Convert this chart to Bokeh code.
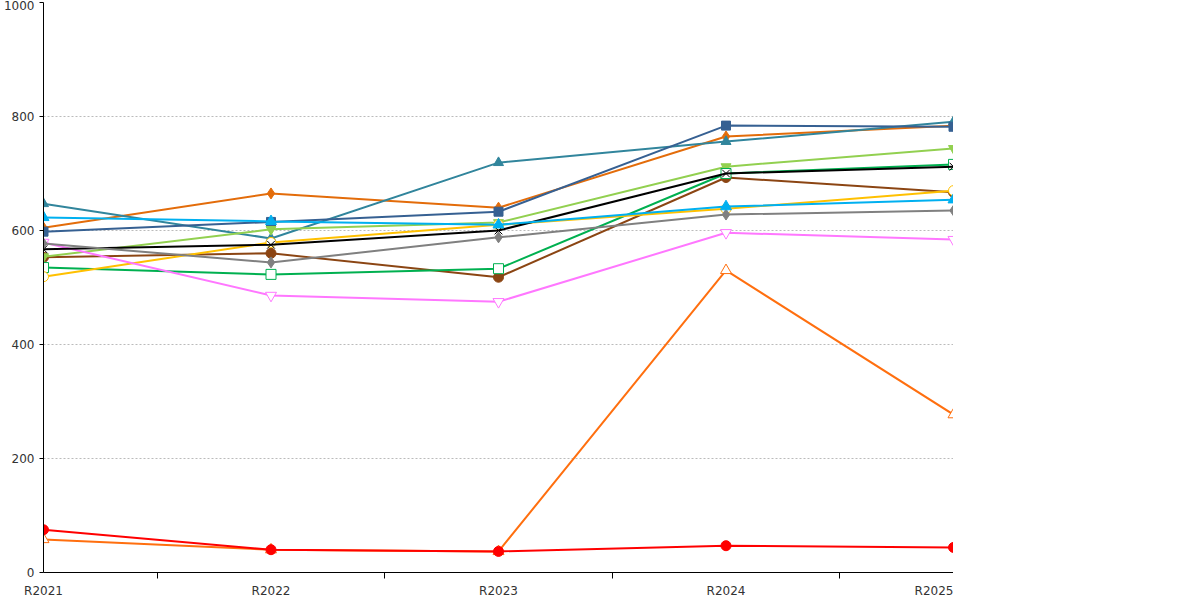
from bokeh.plotting import figure
from bokeh.models import Legend, LegendItem, FixedTicker, Span, ColumnDataSource
from bokeh.embed import file_html
from bokeh.resources import INLINE

years = ["R2021", "R2022", "R2023", "R2024", "R2025"]
s_7500 = [605, 665, 640, 765, 784]
s_8500 = [553, 560, 518, 693, 667]
s_12000 = [647, 586, 719, 756, 791]
s_17000 = [598, 615, 633, 784, 782]
s_23000 = [554, 602, 614, 712, 744]
s_30000 = [535, 523, 533, 700, 716]
s_50000 = [519, 579, 610, 638, 670]
s_70000 = [58, 40, 37, 530, 277]
s_over = [579, 486, 475, 596, 584]
s_all = [567, 575, 600, 700, 712]
s_ps = [577, 544, 588, 628, 635]
s_yours = [75, 40, 37, 47, 44]
s_sel = [623, 616, 610, 642, 654]

series = [
    ("7 500 a méně", s_7500, "#e36c0a", "diamond", True, 11),
    ("7 501 až 8 500", s_8500, "#8b4513", "circle", True, 10),
    ("8 501 až 12 000", s_12000, "#31859c", "triangle", True, 10),
    ("12 001 až 17 000", s_17000, "#366092", "square", True, 9),
    ("17 001 až 23 000", s_23000, "#92d050", "inverted_triangle", True, 10),
    ("23 001 až 30 000", s_30000, "#00b050", "square", False, 10),
    ("30 001 až 50 000", s_50000, "#ffc000", "circle", False, 10),
    ("50 001 až 70 000", s_70000, "#ff6f0f", "triangle", False, 11),
    ("více než 70 001", s_over, "#ff77ff", "inverted_triangle", False, 11),
    ("všechna města", s_all, "#000000", "x", False, 11),
    ("Vybraná PS", s_ps, "#808080", "diamond", True, 11),
    ("Údaje vašeho úřadu", s_yours, "#ff0000", "circle", True, 10),
    ("Údaje vybraného úřadu", s_sel, "#00b0f0", "triangle", True, 11),
]

p = figure(width=1192, height=590, output_backend="svg", toolbar_location=None,
           x_range=(0, 4), y_range=(0, 1000),
           frame_width=910, frame_height=570,
           min_border_left=32, min_border_top=2, min_border_bottom=0, min_border_right=0)
p.outline_line_color = None
xs = list(range(len(years)))
items = []
for name, vals, col, mk, filled, sz in series:
    src = ColumnDataSource(dict(x=xs, y=vals))
    p.line("x", "y", source=src, line_color=col, line_width=2)
    m = p.scatter("x", "y", source=src, marker=mk, size=sz, line_color=col,
                  fill_color=col if filled else "white", line_width=1)
    items.append(LegendItem(label=name, renderers=[m]))

p.add_layout(Span(location=4, dimension="height", line_color="black", line_width=1))

legend = Legend(items=items, location=(995, 180), margin=0, spacing=10,
                border_line_color="#888888", label_text_font="DejaVu Sans",
                label_text_font_size="9pt", padding=8, glyph_width=14,
                background_fill_alpha=1)
p.add_layout(legend, "center")

p.xaxis.ticker = FixedTicker(ticks=xs, minor_ticks=[0.5, 1.5, 2.5, 3.5])
p.xaxis.major_label_overrides = {i: y for i, y in enumerate(years)}
p.xaxis.major_tick_line_color = None
p.xaxis.minor_tick_out = 6
p.xaxis.minor_tick_in = 0
p.yaxis.ticker = FixedTicker(ticks=[0, 200, 400, 600, 800, 1000])
p.yaxis.minor_tick_line_color = None
p.yaxis.major_tick_out = 4
p.yaxis.major_tick_in = 0
for ax in (p.xaxis, p.yaxis):
    ax.axis_line_color = "black"
    ax.major_label_text_font = "DejaVu Sans"
    ax.major_label_text_font_size = "9pt"
    ax.major_label_text_color = "#333333"
p.xgrid.grid_line_color = None
p.ygrid.grid_line_color = "#bbbbbb"
p.ygrid.grid_line_dash = "2 2"

open("out.html", "w").write(file_html(p, INLINE))
